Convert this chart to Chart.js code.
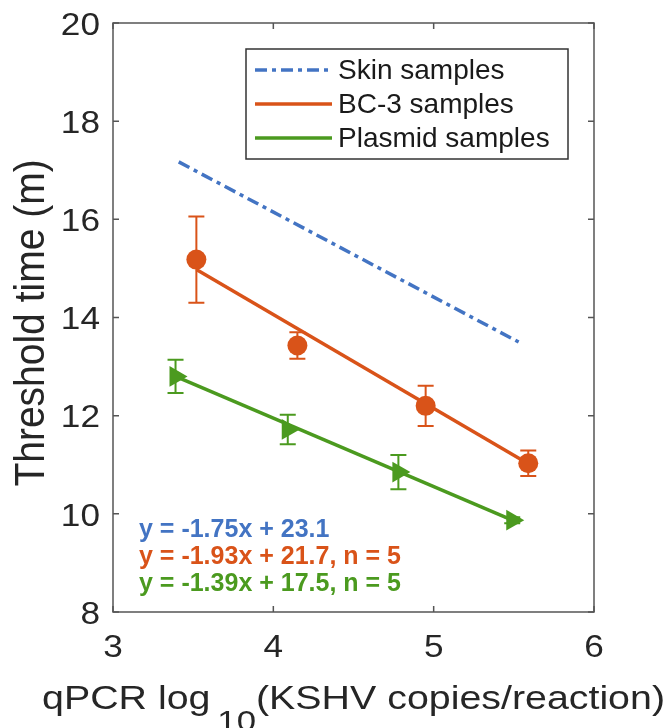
<!DOCTYPE html>
<html>
<head>
<meta charset="utf-8">
<script src="https://cdn.jsdelivr.net/npm/chart.js@4"></script>
<style>
  html, body { margin: 0; padding: 0; background: #fff; }
  #wrap { width: 670px; height: 728px; }
</style>
</head>
<body>
<div id="wrap"><canvas id="chart" width="670" height="728"></canvas></div>
<script>
// BC-3 samples (mean +/- error)
const bcX = [3.52, 4.15, 4.95, 5.59];
const bcY = [15.18, 13.43, 12.20, 11.03];
const bcErr = [0.88, 0.27, 0.41, 0.26];

// Plasmid samples
const plasX = [3.39, 4.09, 4.78, 5.49];
const plasY = [12.80, 11.72, 10.85, 9.87];
const plasErr = [0.34, 0.30, 0.35, 0.06];

// fitted lines (end points)
const skinFitX = [3.41, 5.53];
const skinFitY = [17.17, 13.50];
const bcFitX = [3.52, 5.59];
const bcFitY = [14.98, 11.02];
const plasFitX = [3.39, 5.49];
const plasFitY = [12.80, 9.87];

const seriesNames = ['Skin samples', 'BC-3 samples', 'Plasmid samples'];
const equations = ['y = -1.75x + 23.1', 'y = -1.93x + 21.7, n = 5', 'y = -1.39x + 17.5, n = 5'];
const xTicks = [3, 4, 5, 6];
const yTicks = [8, 10, 12, 14, 16, 18, 20];

const BLUE = '#4374c3';
const ORANGE = '#d95319';
const GREEN = '#4b9a1f';
const FONT = '"Liberation Sans", Arial, sans-serif';

const pts = (xs, ys) => xs.map((v, i) => ({ x: v, y: ys[i] }));

const errorBars = {
    id: 'errorBars',
    beforeDatasetsDraw(chart) {
        const { ctx, scales: { x, y } } = chart;
        const sets = [[bcX, bcY, bcErr, ORANGE], [plasX, plasY, plasErr, GREEN]];
        ctx.save();
        ctx.lineWidth = 2;
        sets.forEach(([xs, ys, es, col]) => {
            ctx.strokeStyle = col;
            xs.forEach((v, i) => {
                const px = x.getPixelForValue(v);
                const top = y.getPixelForValue(ys[i] + es[i]);
                const bot = y.getPixelForValue(ys[i] - es[i]);
                ctx.beginPath();
                ctx.moveTo(px, top); ctx.lineTo(px, bot);
                ctx.moveTo(px - 8, top); ctx.lineTo(px + 8, top);
                ctx.moveTo(px - 8, bot); ctx.lineTo(px + 8, bot);
                ctx.stroke();
            });
        });
        ctx.restore();
    }
};

const frame = {
    id: 'frame',
    afterDraw(chart) {
        const { ctx, chartArea: a, scales: { x, y } } = chart;
        ctx.save();
        ctx.strokeStyle = '#555';
        ctx.lineWidth = 1.5;
        ctx.strokeRect(a.left, a.top, a.right - a.left, a.bottom - a.top);
        ctx.beginPath();
        xTicks.forEach(v => {
            const px = x.getPixelForValue(v);
            ctx.moveTo(px, a.bottom); ctx.lineTo(px, a.bottom - 6);
            ctx.moveTo(px, a.top); ctx.lineTo(px, a.top + 6);
        });
        yTicks.forEach(v => {
            const py = y.getPixelForValue(v);
            ctx.moveTo(a.left, py); ctx.lineTo(a.left + 6, py);
            ctx.moveTo(a.right, py); ctx.lineTo(a.right - 6, py);
        });
        ctx.stroke();

        // tick labels
        ctx.fillStyle = '#262626';
        ctx.font = '32px ' + FONT;
        ctx.textBaseline = 'middle';
        ctx.textAlign = 'center';
        xTicks.forEach(v => {
            ctx.save();
            ctx.translate(x.getPixelForValue(v), a.bottom + 36);
            ctx.scale(1.1, 1);
            ctx.fillText(String(v), 0, 0);
            ctx.restore();
        });
        ctx.textAlign = 'right';
        yTicks.forEach(v => {
            ctx.save();
            ctx.translate(a.left - 13, y.getPixelForValue(v) + 3);
            ctx.scale(1.1, 1);
            ctx.fillText(String(v), 0, 0);
            ctx.restore();
        });

        // y title
        ctx.save();
        ctx.translate(32, 323);
        ctx.scale(1.1, 1);
        ctx.rotate(-Math.PI / 2);
        ctx.font = '39px ' + FONT;
        ctx.textAlign = 'center';
        ctx.fillText('Threshold time (m)', 0, 0);
        ctx.restore();

        // x title with subscript, stretched to span 42..665
        const p1 = 'qPCR log', sub = '10', p2 = '(KSHV copies/reaction)';
        ctx.font = '34px ' + FONT;
        const w1 = ctx.measureText(p1).width, w3 = ctx.measureText(p2).width;
        ctx.font = '30px ' + FONT;
        const w2 = ctx.measureText(sub).width;
        const sx = 623 / (w1 + 6 + w2 + w3);
        ctx.save();
        ctx.translate(42, 709);
        ctx.scale(sx, 1);
        ctx.textAlign = 'left';
        ctx.textBaseline = 'alphabetic';
        ctx.font = '34px ' + FONT;
        ctx.fillText(p1, 0, 0);
        ctx.font = '30px ' + FONT;
        ctx.fillText(sub, w1 + 6, 22);
        ctx.font = '34px ' + FONT;
        ctx.fillText(p2, w1 + 6 + w2, 0);
        ctx.restore();

        // legend
        ctx.fillStyle = '#fff';
        ctx.fillRect(246, 49, 322, 110);
        ctx.strokeStyle = '#333';
        ctx.lineWidth = 1.5;
        ctx.strokeRect(246, 49, 322, 110);
        const cols = [BLUE, ORANGE, GREEN];
        seriesNames.forEach((name, i) => {
            const ly = 70 + i * 34;
            ctx.beginPath();
            ctx.strokeStyle = cols[i];
            ctx.lineWidth = 3.5;
            ctx.setLineDash(i === 0 ? [12, 5, 4, 5] : []);
            ctx.moveTo(255, ly); ctx.lineTo(332, ly);
            ctx.stroke();
            ctx.setLineDash([]);
            ctx.fillStyle = '#1a1a1a';
            ctx.font = '28px ' + FONT;
            ctx.textAlign = 'left';
            ctx.textBaseline = 'middle';
            ctx.fillText(name, 338, ly + 1);
        });

        // equations
        ctx.font = 'bold 25px ' + FONT;
        equations.forEach((eq, i) => {
            ctx.fillStyle = cols[i];
            ctx.fillText(eq, 139, 530 + i * 27);
        });
        ctx.restore();
    }
};

const ctx = document.getElementById('chart').getContext('2d');
new Chart(ctx, {
    type: 'scatter',
    data: {
        datasets: [
            {
                label: 'BC-3 points', data: pts(bcX, bcY), order: 0,
                pointStyle: 'circle', pointRadius: 10, backgroundColor: ORANGE, borderColor: ORANGE, borderWidth: 0
            },
            {
                label: 'Plasmid points', data: pts(plasX, plasY), order: 0,
                pointStyle: 'triangle', rotation: 90, pointRadius: 12, backgroundColor: GREEN, borderColor: GREEN, borderWidth: 0
            },
            {
                label: seriesNames[0], data: pts(skinFitX, skinFitY), order: 1, showLine: true,
                borderColor: BLUE, borderWidth: 3.5, borderDash: [12, 5, 4, 5], pointRadius: 0
            },
            {
                label: seriesNames[1], data: pts(bcFitX, bcFitY), order: 1, showLine: true,
                borderColor: ORANGE, borderWidth: 3.5, pointRadius: 0
            },
            {
                label: seriesNames[2], data: pts(plasFitX, plasFitY), order: 1, showLine: true,
                borderColor: GREEN, borderWidth: 3.5, pointRadius: 0
            }
        ]
    },
    options: {
        responsive: false,
        animation: false,
        layout: { padding: { top: 23, right: 76, left: 0, bottom: 0 } },
        plugins: {
            legend: { display: false },
            tooltip: { enabled: false }
        },
        scales: {
            x: {
                type: 'linear', min: 3, max: 6,
                ticks: { display: false, stepSize: 1 },
                grid: { display: false },
                border: { display: false },
                afterFit(s) { s.height = 116; }
            },
            y: {
                type: 'linear', min: 8, max: 20,
                ticks: { display: false, stepSize: 2 },
                grid: { display: false },
                border: { display: false },
                afterFit(s) { s.width = 113; }
            }
        }
    },
    plugins: [errorBars, frame]
});
</script>
</body>
</html>
